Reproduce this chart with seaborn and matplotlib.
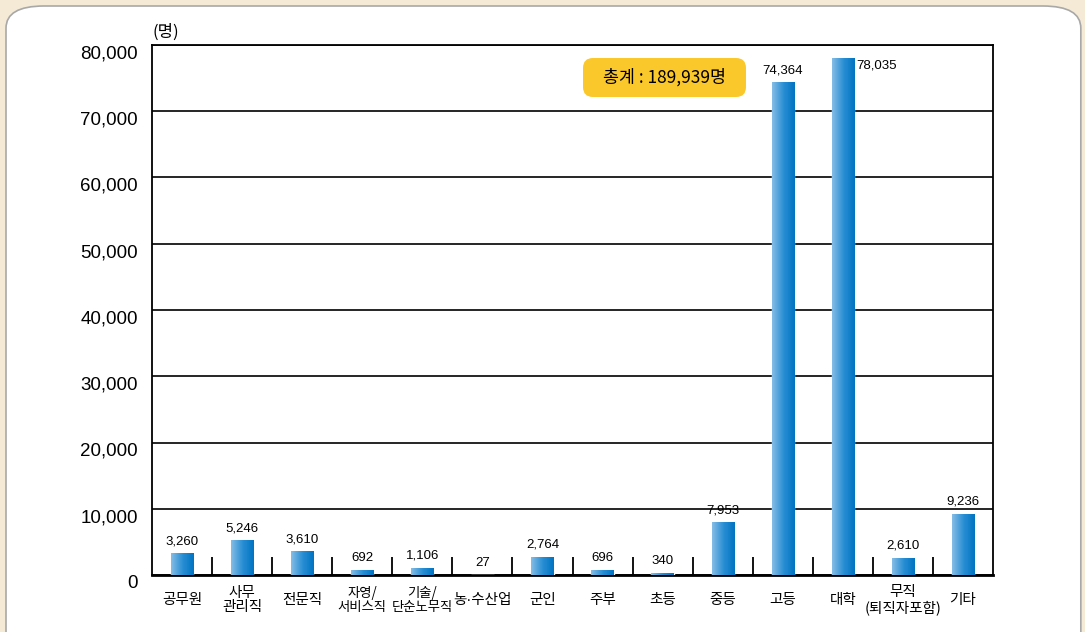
import numpy as np
import pandas as pd
import matplotlib
matplotlib.use("Agg")
import matplotlib.pyplot as plt
import matplotlib.transforms as mtransforms
import seaborn as sns
from matplotlib.patches import FancyBboxPatch
from matplotlib.colors import LinearSegmentedColormap

categories = ["공무원", "사무\n관리직", "전문직", "자영/\n서비스직", "기술/\n단순노무직", "농·수산업",
              "군인", "주부", "초등", "중등", "고등", "대학", "무직\n(퇴직자포함)", "기타"]
values = [3260, 5246, 3610, 692, 1106, 27, 2764, 696, 340, 7953, 74364, 78035, 2610, 9236]
yticks = [0, 10000, 20000, 30000, 40000, 50000, 60000, 70000, 80000]
total_label = "총계 : 189,939명"
unit_label = "(명)"

sns.set_theme(style="white")
plt.rcParams["font.family"] = ["Noto Sans CJK KR", "DejaVu Sans"]
num_font = ["Liberation Sans Narrow", "Liberation Sans", "DejaVu Sans"]

df = pd.DataFrame({"category": categories, "value": values})

fig = plt.figure(figsize=(10.85, 6.32), dpi=100)
fig.patch.set_facecolor("#f5ead6")

# white rounded panel behind the axes
panel = FancyBboxPatch((6 / 1085, -0.05), 1077 / 1085 - 0.002, 1.05 - 6 / 632,
                       boxstyle="round,pad=0,rounding_size=0.035",
                       transform=fig.transFigure, facecolor="white",
                       edgecolor="#a8a8a8", linewidth=1.2, zorder=-5)
fig.patches.append(panel)

ax = fig.add_axes([152 / 1085, 1 - 575 / 632, 841 / 1085, 530 / 632])
ax.set_zorder(2)
ax.set_facecolor("white")

sns.barplot(data=df, x="category", y="value", color="#0a7cc8", width=0.37,
            saturation=1, ax=ax, zorder=3)

# gradient fill on each bar
cmap = LinearSegmentedColormap.from_list("bluegrad", ["#86bde6", "#2a8fd4", "#0073c2"])
grad = np.linspace(0, 1, 64).reshape(1, -1)
for p in ax.patches:
    x0, y0 = p.get_x(), p.get_y()
    w, h = p.get_width(), p.get_height()
    im = ax.imshow(grad, cmap=cmap, aspect="auto", extent=[x0, x0 + w, y0, y0 + h],
                   zorder=4, interpolation="bicubic")
    im.set_clip_path(p)

ax.set_xlim(-0.5, len(categories) - 0.5)
ax.set_ylim(0, 80000)
ax.set_yticks(yticks)
ax.set_yticklabels([f"{v:,}" for v in yticks], fontsize=13.5, family=num_font, color="black")
ax.yaxis.grid(True, color="black", linewidth=1.2, zorder=1)
ax.set_axisbelow(True)
ax.tick_params(axis="y", length=0, pad=10)
# labels sit a little below their grid lines in the reference
shift = mtransforms.ScaledTranslation(0, -0.07, fig.dpi_scale_trans)
for lab in ax.get_yticklabels():
    lab.set_transform(lab.get_transform() + shift)

ax.set_xticks(range(len(categories)))
ax.set_xticklabels(categories, fontsize=10.5, linespacing=1.05, va="center",
                   color="black", fontweight="medium")
ax.tick_params(axis="x", length=0, pad=18)
ax.set_xticks(np.arange(0.5, len(categories) - 1, 1), minor=True)
ax.tick_params(axis="x", which="minor", direction="in", length=13, width=1.3,
               color="black", bottom=True)
for lab in ax.get_xticklabels():
    txt = lab.get_text()
    if "단순" in txt or "서비스" in txt:
        lab.set_fontsize(9.6)
    if "·" in txt:
        # narrow middle dot from a latin font, hangul falls back to CJK
        lab.set_family(["Liberation Sans", "Noto Sans CJK KR"])
ax.set_xlabel("")
ax.set_ylabel("")

for s in ax.spines.values():
    s.set_color("black")
    s.set_linewidth(1.3)
ax.spines["bottom"].set_linewidth(2)

ymax = ax.get_ylim()[1]
for p, v in zip(ax.patches, values):
    top = p.get_height()
    if top > ymax * 0.96:
        # no room above: put it beside the bar
        ax.text(p.get_x() + p.get_width() + 0.04, top - 200, f"{v:,}",
                ha="left", va="top", fontsize=9.5, zorder=5, family=num_font, color="black")
    else:
        ax.text(p.get_x() + p.get_width() / 2, top + 900, f"{v:,}",
                ha="center", va="bottom", fontsize=9.5, zorder=5, family=num_font, color="black")

ax.text(0.0, 1.008, unit_label, transform=ax.transAxes, fontsize=12, ha="left", va="bottom",
        color="black")

# yellow total box
box = FancyBboxPatch((5.83, 6.32 - 0.97), 1.63, 0.39,
                     boxstyle="round,pad=0,rounding_size=0.1",
                     transform=fig.dpi_scale_trans, facecolor="#fbc82b",
                     edgecolor="none", zorder=5)
fig.patches.append(box)
fig.text(6.645 / 10.85, 1 - 0.775 / 6.32, total_label, fontsize=12.5, ha="center",
         va="center", color="black", fontweight="medium", zorder=6)
box.set_zorder(3)
fig.texts[-1].set_zorder(4)

fig.savefig("out.png", dpi=100)
